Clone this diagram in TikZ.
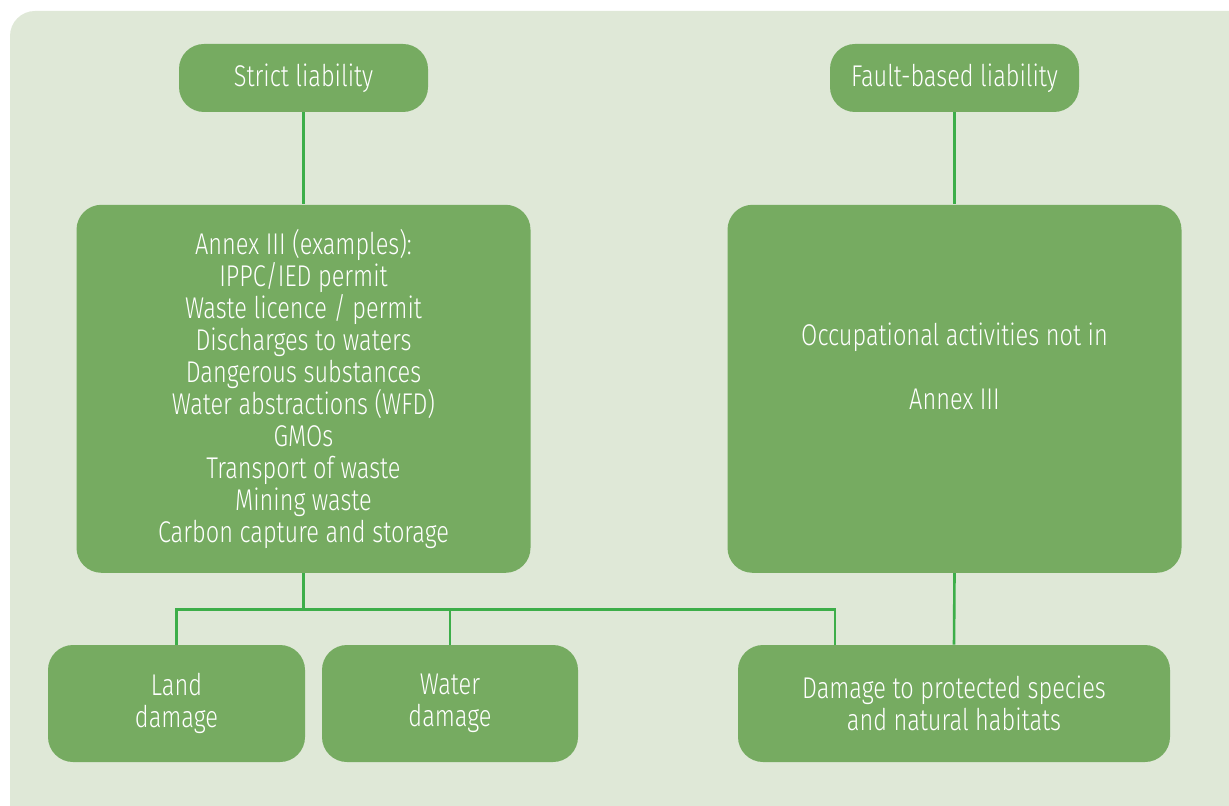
\documentclass[tikz,border=0pt]{standalone}
\usepackage{fontspec}
\setmainfont{Fira Sans}[UprightFont=* Light, FakeStretch=0.785]
\usepackage{xcolor}
\usetikzlibrary{positioning, calc}

\definecolor{bgpanel}{RGB}{223,232,215}
\definecolor{boxgreen}{RGB}{118,171,97}
\definecolor{linkgreen}{RGB}{61,174,73}

\begin{document}
\begin{tikzpicture}[
    x=0.5pt, y=-0.5pt,
    box/.style     = {fill=boxgreen, rounded corners=12.5pt, inner sep=0pt,
                      align=center, text=white, font=\fontsize{15}{16}\selectfont},
    topbox/.style  = {box, minimum width=124.5pt, minimum height=34pt},
    bigbox/.style  = {box, minimum width=227pt, minimum height=184pt},
    dmgbox/.style  = {box, minimum height=58.5pt},
    link/.style    = {draw=linkgreen, line width=1.3pt},
]

%% ── Panel ───────────────────────────────────────────────────────────────────
\clip (0,0) rectangle (1229,806);
\fill[bgpanel, rounded corners=12.5pt] (10,11) rectangle (1270,850);

%% ── Strict liability column ─────────────────────────────────────────────────
\node[topbox]                       (strict) at (303.5,78) {Strict liability};
\node[bigbox, below=46pt of strict] (annex)  {Annex III (examples):\\IPPC/IED permit\\Waste licence / permit\\Discharges to waters\\Dangerous substances\\Water abstractions (WFD)\\GMOs\\Transport of waste\\Mining waste\\Carbon capture and storage};

%% ── Fault-based liability column ────────────────────────────────────────────
\node[topbox]                       (fault)  at (954.5,78) {Fault-based liability};
\node[bigbox, below=46pt of fault]  (occup)  {Occupational activities not in\\[16pt]Annex III\\[7pt]~};

%% ── Damage boxes ────────────────────────────────────────────────────────────
\node[dmgbox, minimum width=128.5pt] (land)    at (176.5,703.5) {Land\\damage};
\node[dmgbox, minimum width=128pt]   (water)   at (450,703.5)   {Water\\damage};
\node[dmgbox, minimum width=216pt]   (habitat) at (954,703.5)   {Damage to protected species\\and natural habitats};

%% ── Connectors ──────────────────────────────────────────────────────────────
\coordinate (bus)   at ($(annex.south)+(0,36)$);
\coordinate (hdrop) at ($(habitat.north)+(-119,0)$);

\draw[link] (strict) -- (annex);
\draw[link] (fault)  -- (occup);
\draw[link] (annex.south) -- (bus);
\draw[link] (land.north) |- (bus) -| (hdrop);
\draw[link] (water.north) -- (water.north |- bus);
\draw[link] (occup.south) -- (habitat.north);

\end{tikzpicture}
\end{document}
